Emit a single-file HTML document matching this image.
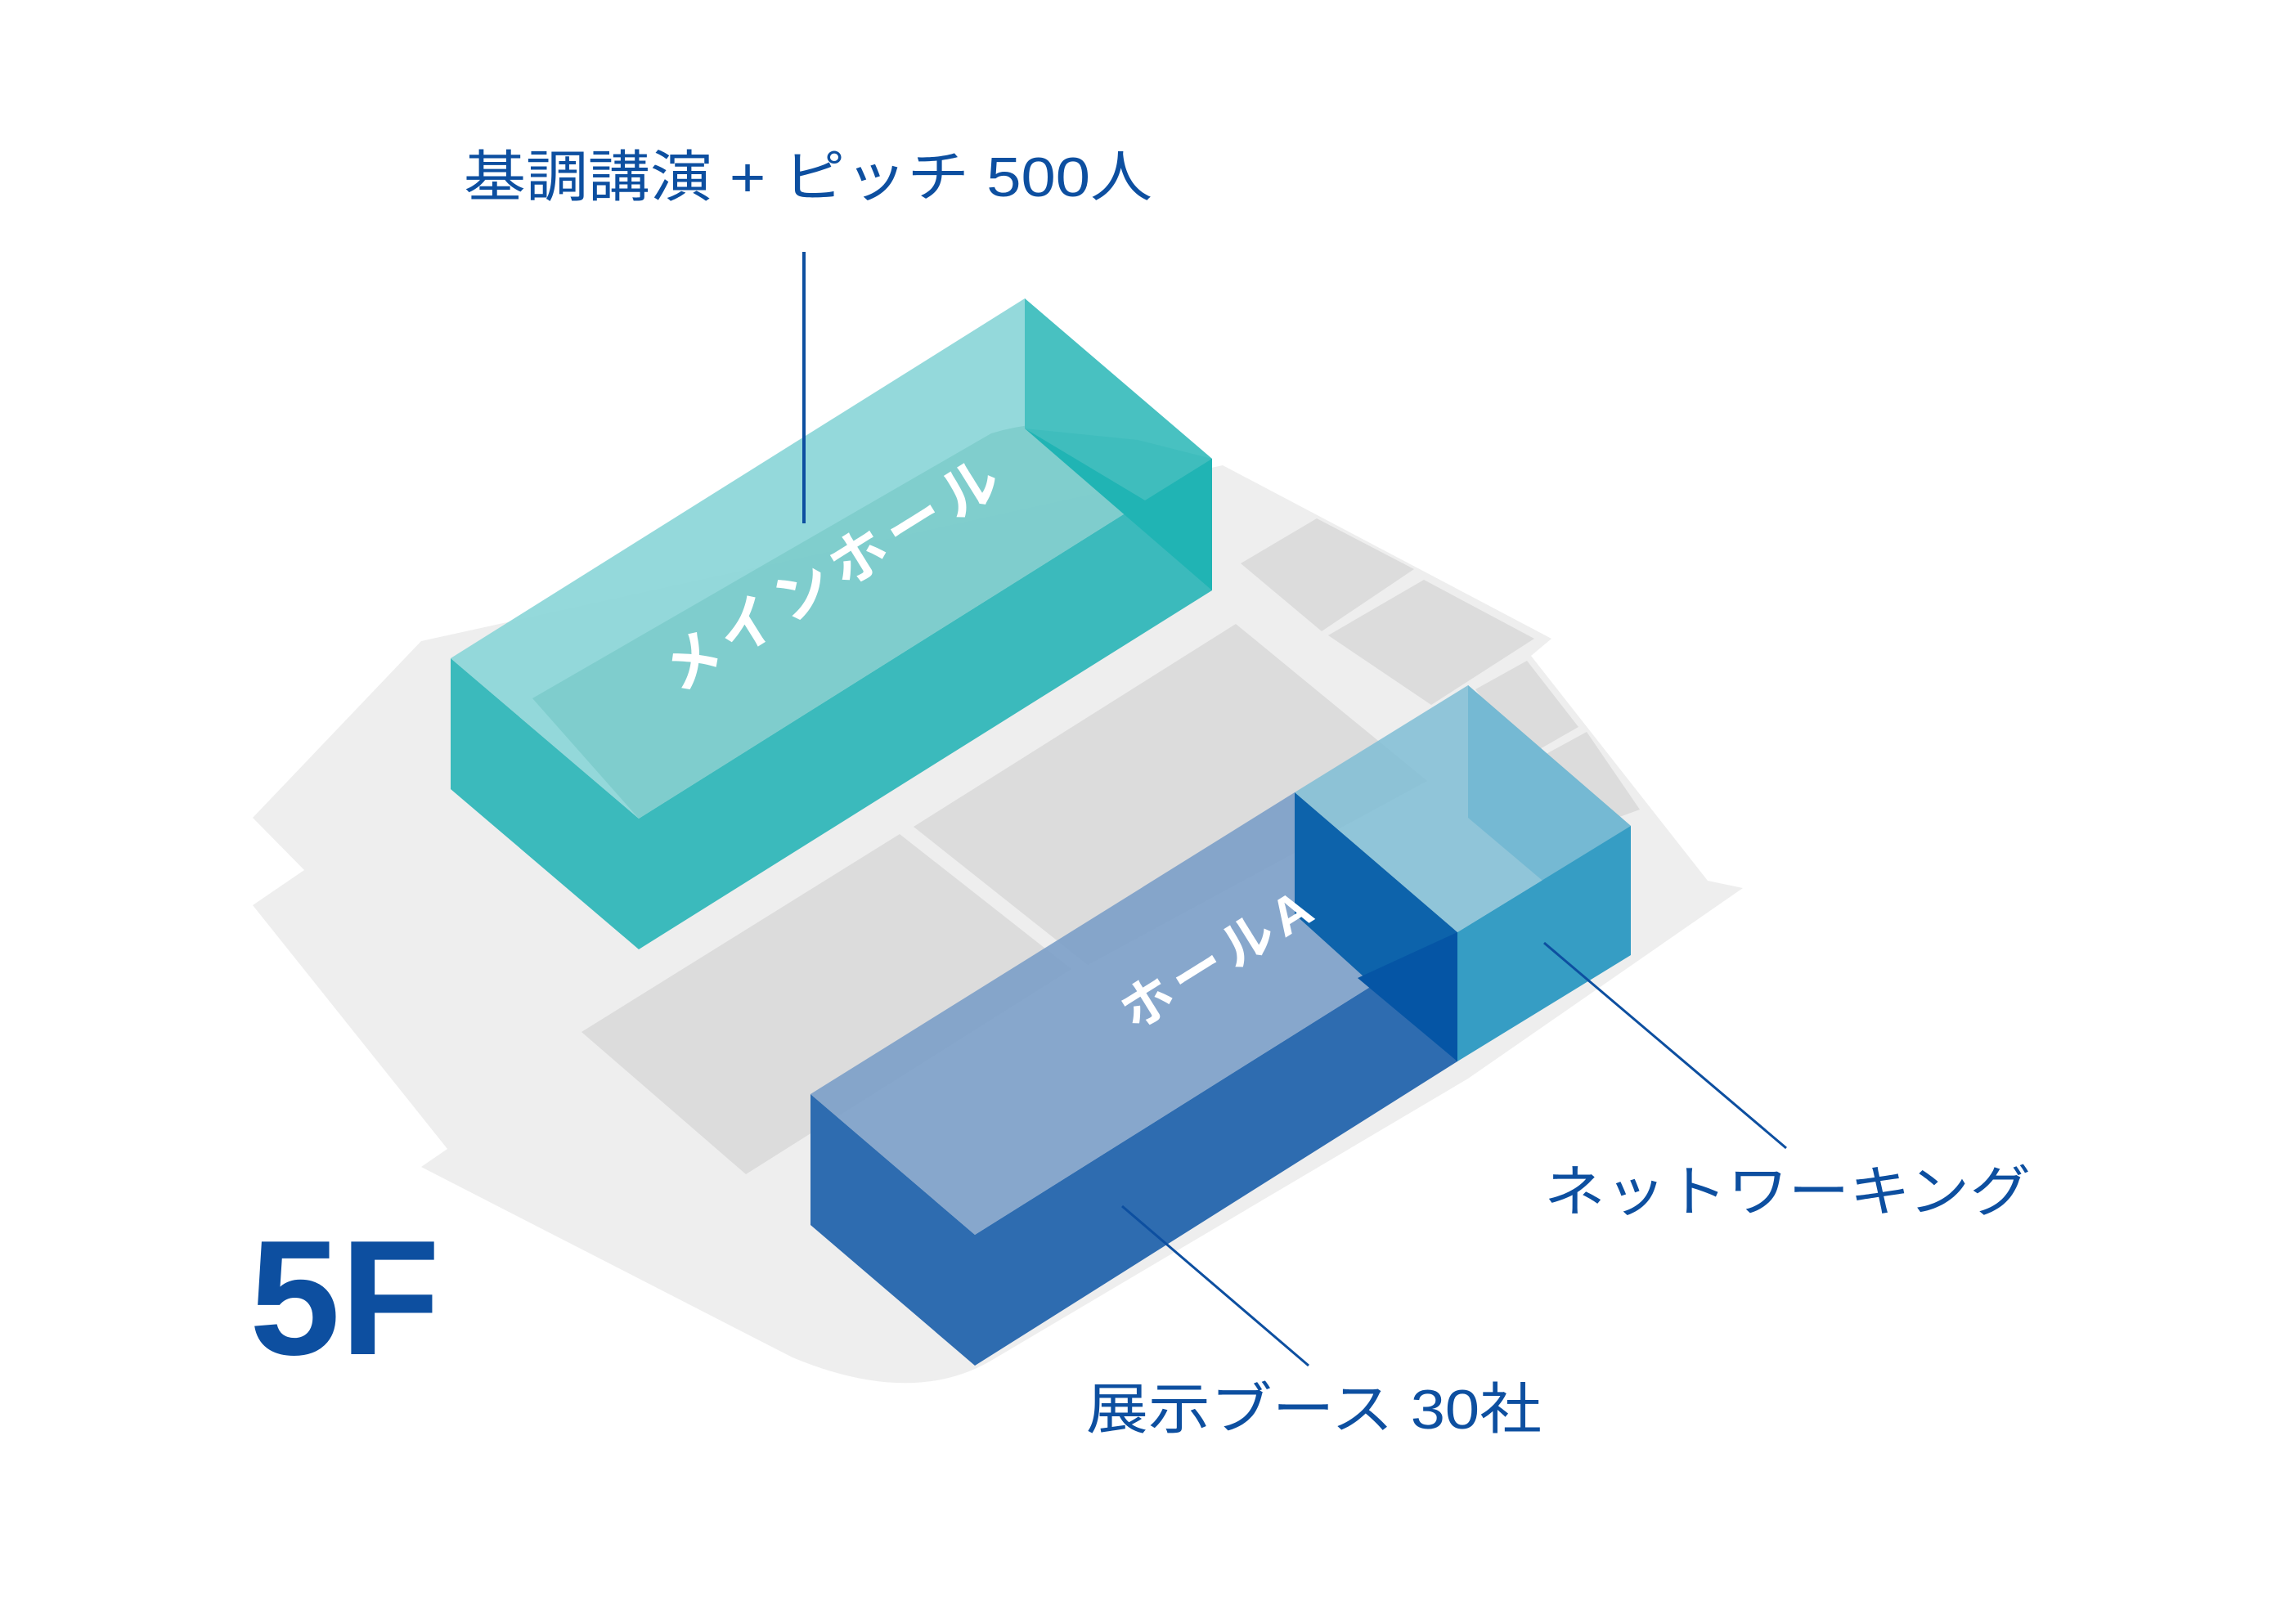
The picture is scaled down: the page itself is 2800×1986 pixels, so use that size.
<!DOCTYPE html>
<html><head><meta charset="utf-8"><style>
html,body{margin:0;padding:0;background:#fff;}
svg{display:block;}
text{font-family:"Liberation Sans","Noto Sans CJK JP",sans-serif;}
</style></head><body>
<svg width="2800" height="1986" viewBox="0 0 2800 1986" xmlns="http://www.w3.org/2000/svg">
<rect width="2800" height="1986" fill="#fff"/>
<!-- floor plate -->
<path d="M515,784 L309,1000 L372,1064 L309,1107 L547,1405 L515,1427 L969,1660 Q1113,1720 1210,1665 L1795,1319 L2131,1086 L2088,1077 L1872,802 L1897,781 L1495,569 Z" fill="#eeeeee"/>
<!-- rooms -->
<g fill="#dcdcdc">
<polygon points="711,1262 1100,1020 1310,1185 912,1436"/>
<polygon points="1117,1011 1511,763 1745,955 1330,1180"/>
<polygon points="1517,689 1610,634 1729,696 1616,772"/>
<polygon points="1624,777 1741,709 1876,781 1750,862"/>
<polygon points="1804,843 1867,808 1930,889 1867,925"/>
<polygon points="1885,925 1940,895 2005,990 1950,1010"/>
</g>
<!-- main hall -->
<polygon points="551,805 781,1001 781,1161 551,965" fill="#3bbabc"/>
<polygon points="781,1001 1482,561 1482,722 781,1161" fill="#3bbabc"/>
<polygon points="551,805 1253,365 1482,561 781,1001" fill="#88d5d7" fill-opacity="0.9"/>
<path d="M651,854 L1212,530 Q1300,503 1391,538 L1482,561 L781,1001 Z" fill="#7dcccb" fill-opacity="0.9"/>
<polygon points="1253,365 1482,561 1253,524" fill="#48c1c1"/>
<polygon points="1253,524 1482,561 1482,722" fill="#20b4b4"/>
<polygon points="1253,524 1391,538 1482,561 1400,612" fill="#3fbdbd"/>
<line x1="983" y1="308" x2="983" y2="640" stroke="#0d4fa0" stroke-width="4"/>
<text x="1023" y="705" font-size="70" font-weight="bold" fill="#fff" text-anchor="middle" dominant-baseline="middle" letter-spacing="10" transform="rotate(-32 1023 705)">メインホール</text>
<!-- hall A + networking -->
<polygon points="1795,838 1994,1010 1994,1168 1795,1000" fill="#3fa2c6"/>
<polygon points="991,1338 1192,1510 1192,1670 991,1498" fill="#2e6cb0"/>
<polygon points="1192,1510 1782,1140 1782,1298 1192,1670" fill="#2e6cb0"/>
<polygon points="991,1338 1583,969 1782,1140 1192,1510" fill="#7b9fc8" fill-opacity="0.9"/>
<polygon points="1583,969 1782,1140 1782,1298 1583,1118" fill="#0d63ab"/>
<polygon points="1660,1196 1782,1140 1782,1298" fill="#0555a5"/>
<polygon points="1782,1140 1994,1010 1994,1168 1782,1298" fill="#369dc4"/>
<polygon points="1583,969 1795,838 1994,1010 1782,1140" fill="#7fbdd5" fill-opacity="0.85"/>
<text x="1493" y="1176" font-size="64" font-weight="bold" fill="#fff" text-anchor="middle" dominant-baseline="middle" letter-spacing="8" transform="rotate(-32 1493 1176)">ホールA</text>
<!-- leaders -->
<line x1="1888" y1="1153" x2="2184" y2="1404" stroke="#0d4fa0" stroke-width="3"/>
<line x1="1372" y1="1475" x2="1600" y2="1670" stroke="#0d4fa0" stroke-width="3"/>
<!-- labels -->
<text x="567" y="222" font-size="68" fill="#0d4fa0" dominant-baseline="middle" textLength="842" lengthAdjust="spacingAndGlyphs">基調講演 + ピッチ 500人</text>
<text x="1888" y="1463" font-size="68" fill="#0d4fa0" dominant-baseline="middle" textLength="595" lengthAdjust="spacingAndGlyphs">ネットワーキング</text>
<text x="1328" y="1729" font-size="68" fill="#0d4fa0" dominant-baseline="middle" textLength="557" lengthAdjust="spacingAndGlyphs">展示ブース 30社</text>
<text x="305" y="1656" font-size="200" font-weight="bold" fill="#0d4fa0" textLength="233" lengthAdjust="spacingAndGlyphs">5F</text>
</svg>
</body></html>
